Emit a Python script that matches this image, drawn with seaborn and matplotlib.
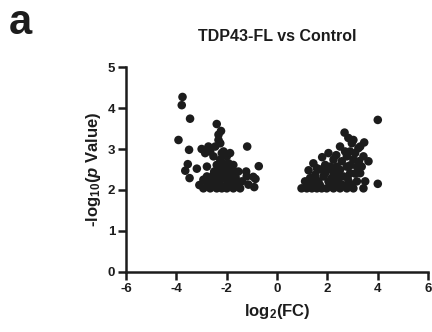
import seaborn as sns
import matplotlib.pyplot as plt
import pandas as pd

# log2 fold change / -log10 p values
log2fc = [
    -3.76, -3.79, -3.46, -3.92, -3.50, -3.55, -3.65, -3.48, -3.19, -3.00, -3.09,
    -2.40, -2.23, -1.19, -0.73, -0.86, -0.91, -1.23, -0.95,
    -2.66, -2.46, -2.33, -2.26, -2.20, -2.53, -2.26, -2.13, -2.00, -1.93, -1.74,
    -1.87, -2.07, -2.33, -2.53, -2.79, -2.73, -2.93, -2.66, -2.40, -2.20, -2.00,
    -1.74, -1.47, -1.87, -1.67, -1.54, -1.40, -2.26, -2.46, -2.13, -1.74, -1.60,
    -2.00, -2.40, -2.79, -2.86, -2.73, -2.33, -1.87, -2.93, -1.21, -1.14, -1.87,
    -2.13, -2.33, -2.60, -1.74, -1.54, -2.26, -1.93,
    -2.50, -2.10, -1.80, -2.35, -2.15, -1.95, -2.60, -2.05, -2.80, -1.65,
    0.97, 1.18, 1.38, 1.58, 1.77, 1.97, 2.24, 2.50, 2.77, 3.03, 3.43,
    1.25, 1.44, 1.79, 2.04, 2.50, 2.68, 2.83, 3.03, 3.46, 3.23, 3.63, 3.43,
    4.00, 4.00,
    1.11, 1.31, 1.51, 1.64, 1.84, 2.04, 2.24, 2.37, 2.24, 2.11, 2.57, 2.77,
    2.90, 3.03, 3.17, 3.30, 2.90, 2.64, 2.44, 2.84, 3.17, 3.50, 1.71, 1.91,
    2.77, 3.10, 3.30, 2.97, 1.44, 1.25, 2.30, 2.97, 3.36, 2.50, 2.17, 1.58, 2.70,
    1.70, 1.90, 2.10, 2.40, 2.60, 2.90, 3.10, 3.25, 2.80, 2.35, 1.50, 2.00,
]
neg_log10_p = [
    4.27, 4.07, 3.74, 3.22, 2.98, 2.63, 2.47, 2.29, 2.52, 3.00, 2.12,
    3.61, 3.44, 3.06, 2.58, 2.27, 2.07, 2.45, 2.32,
    2.94, 3.06, 3.22, 3.14, 2.90, 2.82, 2.74, 2.94, 2.82, 2.65, 2.61,
    2.49, 2.41, 2.49, 2.37, 2.33, 2.13, 2.04, 2.04, 2.04, 2.04, 2.04,
    2.04, 2.04, 2.21, 2.33, 2.45, 2.21, 2.25, 2.21, 2.57, 2.41, 2.17,
    2.25, 2.61, 2.57, 2.90, 3.06, 3.35, 2.90, 2.25, 2.33, 2.13, 2.37,
    2.37, 2.33, 2.21, 2.21, 2.08, 2.12, 2.12,
    2.45, 2.30, 2.50, 2.15, 2.65, 2.35, 2.12, 2.10, 2.20, 2.30,
    2.04, 2.04, 2.04, 2.04, 2.04, 2.04, 2.04, 2.04, 2.04, 2.04, 2.04,
    2.48, 2.65, 2.80, 2.90, 3.06, 3.40, 3.27, 3.22, 3.16, 3.02, 2.70, 2.82,
    3.71, 2.15,
    2.21, 2.29, 2.37, 2.21, 2.33, 2.21, 2.41, 2.57, 2.74, 2.57, 2.70, 2.82,
    2.94, 2.74, 2.57, 2.41, 2.41, 2.33, 2.21, 2.21, 2.21, 2.21, 2.50, 2.61,
    2.57, 2.90, 3.06, 3.14, 2.17, 2.13, 2.17, 2.12, 2.57, 2.49, 2.29, 2.53, 2.94,
    2.12, 2.40, 2.10, 2.33, 2.12, 2.60, 2.40, 2.70, 2.30, 2.85, 2.30, 2.50,
]

x_ticks = [-6, -4, -2, 0, 2, 4, 6]
y_ticks = [0, 1, 2, 3, 4, 5]

df = pd.DataFrame({'fc': log2fc, 'p': neg_log10_p})

sns.set_style('white')
plt.rcParams['font.family'] = ['Liberation Sans', 'DejaVu Sans']
plt.rcParams['font.weight'] = 'bold'
plt.rcParams['mathtext.fontset'] = 'custom'
plt.rcParams['mathtext.rm'] = 'Liberation Sans:bold'
plt.rcParams['mathtext.it'] = 'Liberation Sans:bold:italic'
plt.rcParams['mathtext.bf'] = 'Liberation Sans:bold'

ink = '#1c1c1c'
fig = plt.figure(figsize=(4.32, 3.32), dpi=100)
ax = fig.add_axes([0.292, 0.181, 0.699, 0.617])

sns.scatterplot(data=df, x='fc', y='p', ax=ax, color=ink, s=38,
                edgecolor='none', linewidth=0, legend=False)

ax.set_xlim(-6, 6)
ax.set_ylim(0, 5)
ax.set_xticks(x_ticks)
ax.set_yticks(y_ticks)
ax.set_xticklabels([str(t) for t in x_ticks])
ax.set_yticklabels([str(t) for t in y_ticks])
sns.despine(ax=ax)
for side in ['left', 'bottom']:
    ax.spines[side].set_linewidth(1.8)
    ax.spines[side].set_color(ink)
ax.tick_params(axis='both', direction='out', length=6, width=1.8,
               color=ink, labelsize=9.5, labelcolor=ink, pad=2)
ax.tick_params(axis='y', left=True)
ax.tick_params(axis='x', bottom=True)
for lab in ax.get_xticklabels() + ax.get_yticklabels():
    lab.set_fontweight('bold')

ax.set_xlabel('log$_2$(FC)', fontsize=12, fontweight='bold', color=ink, labelpad=5)
ax.set_ylabel('-log$_{10}$($\\it{p}$ Value)', fontsize=12, fontweight='bold',
              color=ink, labelpad=3)

fig.text(0.641, 0.89, 'TDP43-FL vs Control', ha='center', va='center',
         fontsize=11.5, fontweight='bold', color=ink)
fig.text(0.02, 0.99, 'a', ha='left', va='top', fontsize=30,
         fontweight='bold', color=ink)

fig.savefig('out.png', dpi=100)
